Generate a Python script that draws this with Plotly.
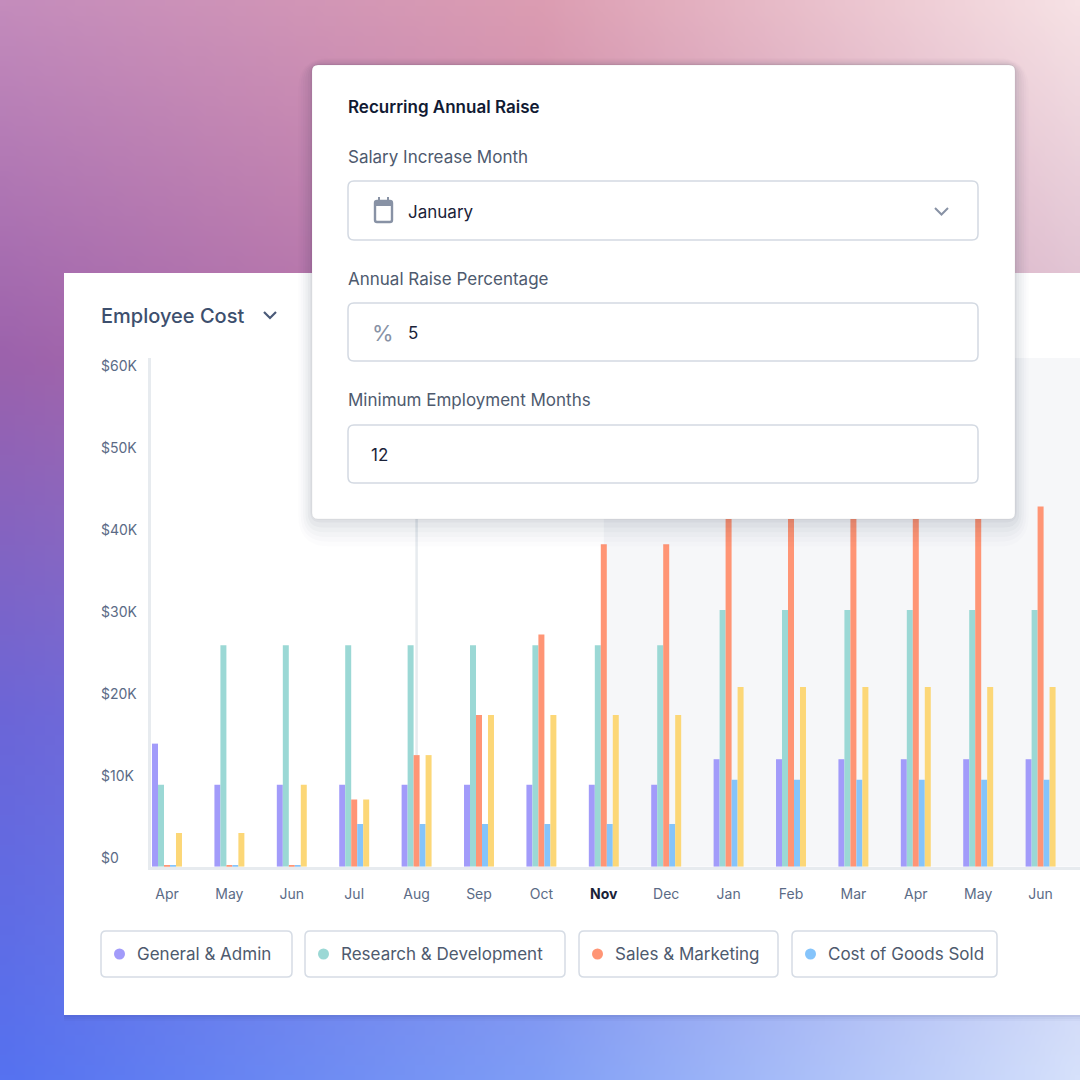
import base64
import struct
import zlib

import numpy as np
import plotly.graph_objects as go

# data (values in $K)
months = ["Apr", "May", "Jun", "Jul", "Aug", "Sep", "Oct", "Nov",
          "Dec", "Jan", "Feb", "Mar", "Apr", "May", "Jun"]
general_admin = [15, 10, 10, 10, 10, 10, 10, 10, 10, 13.1, 13.1, 13.1, 13.1, 13.1, 13.1]
research_dev = [10, 27, 27, 27, 27, 27, 27, 27, 27, 31.3, 31.3, 31.3, 31.3, 31.3, 31.3]
sales_marketing = [0.2, 0.2, 0.2, 8.2, 13.6, 18.5, 28.3, 39.3, 39.3, 43, 43, 43, 43, 43, 43.9]
cost_goods = [0.2, 0.2, 0.2, 5.2, 5.2, 5.2, 5.2, 5.2, 5.2, 10.6, 10.6, 10.6, 10.6, 10.6, 10.6]
other_cost = [4.1, 4.1, 10, 8.2, 13.6, 18.5, 18.5, 18.5, 18.5, 21.9, 21.9, 21.9, 21.9, 21.9, 21.9]
y_ticks = [0, 10, 20, 30, 40, 50, 60]

series = [
    ("General & Admin", general_admin, "#a29bfa"),
    ("Research & Development", research_dev, "#9bd8d5"),
    ("Sales & Marketing", sales_marketing, "#ff9575"),
    ("Cost of Goods Sold", cost_goods, "#85c4fb"),
    ("Other", other_cost, "#fcd777"),
]

FONT = "Inter"
W = H = 1080


def px(x):
    return x / W


def py(y):
    return 1 - y / H


def rrect(x0, y0, x1, y1, r):
    # rounded rectangle path in paper coords, input in pixels
    X0, X1, Y0, Y1 = px(x0), px(x1), py(y0), py(y1)
    R = r / W
    return (f"M {X0+R},{Y0} L {X1-R},{Y0} Q {X1},{Y0} {X1},{Y0-R} "
            f"L {X1},{Y1+R} Q {X1},{Y1} {X1-R},{Y1} L {X0+R},{Y1} "
            f"Q {X0},{Y1} {X0},{Y1+R} L {X0},{Y0-R} Q {X0},{Y0} {X0+R},{Y0} Z")


# background gradient as a small png
def hex_rgb(h):
    h = h.lstrip("#")
    return [int(h[i:i + 2], 16) for i in (0, 2, 4)]


grid = np.array([
    [hex_rgb(c) for c in ["#c48cbc", "#dc9db2", "#f7e2e5"]],
    [hex_rgb(c) for c in ["#9c62ac", "#c07aa8", "#dcbccf"]],
    [hex_rgb(c) for c in ["#6c66d8", "#8a82e2", "#c8c8f0"]],
    [hex_rgb(c) for c in ["#5672f0", "#809ef6", "#d6e1fb"]],
], dtype=float)
N = 108
ys = np.linspace(0, grid.shape[0] - 1, N)
xs = np.linspace(0, grid.shape[1] - 1, N)
img = np.zeros((N, N, 3))
for i, yy in enumerate(ys):
    r0 = min(int(yy), grid.shape[0] - 2)
    ty = yy - r0
    row = grid[r0] * (1 - ty) + grid[r0 + 1] * ty
    for j, xx in enumerate(xs):
        c0 = min(int(xx), grid.shape[1] - 2)
        tx = xx - c0
        img[i, j] = row[c0] * (1 - tx) + row[c0 + 1] * tx
img = img.clip(0, 255).astype(np.uint8)


def chunk(t, d):
    return struct.pack(">I", len(d)) + t + d + struct.pack(">I", zlib.crc32(t + d) & 0xffffffff)


raw = b"".join(b"\x00" + img[i].tobytes() for i in range(N))
png = (b"\x89PNG\r\n\x1a\n" + chunk(b"IHDR", struct.pack(">IIBBBBB", N, N, 8, 2, 0, 0, 0))
       + chunk(b"IDAT", zlib.compress(raw)) + chunk(b"IEND", b""))
bg_uri = "data:image/png;base64," + base64.b64encode(png).decode()

fig = go.Figure()
xs_idx = list(range(len(months)))
for name, vals, col in series:
    fig.add_bar(x=xs_idx, y=[v * 1000 for v in vals], name=name, marker_color=col,
                marker_line_width=0, showlegend=False)

# x axis geometry: 62.4 px per month, first month at 167 px
step = 62.4
x_left = 151
r0 = -(167 - x_left) / step
r1 = r0 + (W - x_left) / step
y_top_px, y_zero_px = 358, 866.7
tick_text = [f"<span style='color:#1a2238'><b>{m}</b></span>" if i == 7 else m
             for i, m in enumerate(months)]

shapes = []
# card shadow + card
for k, op in enumerate([0.05, 0.04, 0.03]):
    shapes.append(dict(type="rect", xref="paper", yref="paper", layer="below",
                       x0=px(64), x1=1.02, y0=py(1015 + 2 + 2 * k), y1=py(280),
                       fillcolor=f"rgba(30,40,90,{op})", line_width=0))
shapes.append(dict(type="rect", xref="paper", yref="paper", layer="below",
                   x0=px(64), x1=1.02, y0=py(1015), y1=py(273),
                   fillcolor="white", line_width=0))
# forecast shading and current month marker
shapes.append(dict(type="rect", xref="x", yref="y", layer="below", x0=7, x1=r1 + 1,
                   y0=0, y1=62000, fillcolor="#f6f7f9", line_width=0))
shapes.append(dict(type="line", xref="x", yref="y", layer="below", x0=4, x1=4,
                   y0=0, y1=62000, line=dict(color="#e7ebef", width=2.5)))

# popover shadow and body
for k, op in enumerate([0.035, 0.03, 0.025, 0.02, 0.015, 0.01]):
    g = 3 + 4 * k
    shapes.append(dict(type="path", xref="paper", yref="paper", layer="above",
                       path=rrect(312 - g * 0.6, 65 - g * 0.3, 1015 + g * 0.6, 519 + g * 1.2, 8 + g),
                       fillcolor=f"rgba(20,30,60,{op})", line_width=0))
shapes.append(dict(type="path", xref="paper", yref="paper", layer="above",
                   path=rrect(312, 65, 1015, 519, 6), fillcolor="white",
                   line=dict(color="rgba(0,0,0,0.05)", width=1)))
for y0, y1 in [(181, 240), (303, 361), (425, 483)]:
    shapes.append(dict(type="path", xref="paper", yref="paper", layer="above",
                       path=rrect(348, y0, 978, y1, 6), fillcolor="white",
                       line=dict(color="#d3d9e2", width=1.5)))
# calendar icon
shapes.append(dict(type="path", xref="paper", yref="paper", layer="above",
                   path=rrect(375, 201, 392, 222, 2), fillcolor="rgba(0,0,0,0)",
                   line=dict(color="#8892a5", width=2.4)))
shapes.append(dict(type="rect", xref="paper", yref="paper", layer="above",
                   x0=px(375), x1=px(392), y0=py(206), y1=py(201),
                   fillcolor="#8892a5", line_width=0))
for tx in (379, 388):
    shapes.append(dict(type="line", xref="paper", yref="paper", layer="above",
                       x0=px(tx), x1=px(tx), y0=py(197), y1=py(202),
                       line=dict(color="#8892a5", width=2)))
# chevrons
shapes.append(dict(type="path", xref="paper", yref="paper", layer="above",
                   path=f"M {px(935)},{py(208)} L {px(941.5)},{py(214.5)} L {px(948)},{py(208)}",
                   line=dict(color="#8892a5", width=2)))
shapes.append(dict(type="path", xref="paper", yref="paper", layer="above",
                   path=f"M {px(264)},{py(312)} L {px(270)},{py(318)} L {px(276)},{py(312)}",
                   line=dict(color="#4a5a78", width=2.2)))

annotations = []


def text(x, y, s, size, color, weight=400, anchor="left"):
    # annotations carry ~2px of padding, pull left-anchored text back by that
    xs_ = x - 2 if anchor == "left" else x
    annotations.append(dict(x=px(xs_), y=py(y), xref="paper", yref="paper", text=s,
                            showarrow=False, xanchor=anchor, yanchor="middle",
                            font=dict(family=FONT, size=size, color=color, weight=weight)))


text(101, 316, "Employee Cost", 20, "#3d4f6e", 500)
text(348, 107, "Recurring Annual Raise", 17, "#111a33", 600)
text(348, 157, "Salary Increase Month", 17, "#4e5a6e")
text(408, 212, "January", 17, "#1a2238")
text(348, 279, "Annual Raise Percentage", 17, "#4e5a6e")
text(383, 333, "%", 22, "#8892a5", 400, "center")
text(408, 333, "5", 17, "#1a2238")
text(348, 400, "Minimum Employment Months", 17, "#4e5a6e")
text(371, 455, "12", 17, "#1a2238")

# y tick labels, left aligned and sitting just above their level
for t in y_ticks:
    annotations.append(dict(x=px(99), y=t * 1000, xref="paper", yref="y",
                            text=f"${t}K" if t else "$0", showarrow=False,
                            xanchor="left", yanchor="middle", yshift=9,
                            font=dict(family=FONT, size=14, color="#5b6b86")))

# legend pills
pills = [(101, 292), (305, 565), (579, 778), (792, 997)]
for (name, _, col), (a, b) in zip(series[:4], pills):
    shapes.append(dict(type="path", xref="paper", yref="paper", layer="above",
                       path=rrect(a, 931, b, 977, 5), fillcolor="white",
                       line=dict(color="#d6dce5", width=1.5)))
    shapes.append(dict(type="circle", xref="paper", yref="paper", layer="above",
                       x0=px(a + 13), x1=px(a + 24), y0=py(948.5), y1=py(959.5),
                       fillcolor=col, line_width=0))
    text(a + 36, 954, name, 17, "#4e5a6e")

fig.update_layout(
    width=W, height=H,
    margin=dict(l=0, r=0, t=0, b=0),
    paper_bgcolor="#8a7fd0",
    plot_bgcolor="rgba(0,0,0,0)",
    barmode="group", bargap=0.52, bargroupgap=0,
    showlegend=False,
    font=dict(family=FONT, color="#5b6b86"),
    images=[dict(source=bg_uri, xref="paper", yref="paper", x=0, y=1, sizex=1, sizey=1,
                 sizing="stretch", xanchor="left", yanchor="top", layer="below")],
    shapes=shapes,
    annotations=annotations,
    xaxis=dict(domain=[px(x_left), 1], range=[r0, r1], tickvals=xs_idx, ticktext=tick_text,
               showgrid=False, zeroline=False, showline=True, linecolor="#e7ebef", linewidth=2.5,
               ticks="", ticklabelstandoff=13, tickfont=dict(family=FONT, size=14, color="#5b6b86"),
               fixedrange=True),
    yaxis=dict(domain=[py(y_zero_px), py(y_top_px)], range=[0, 62000], showgrid=False,
               zeroline=False, showline=True, linecolor="#e7ebef", linewidth=2.5,
               showticklabels=False, ticks="", fixedrange=True),
)

# drop the page's default body margin so the figure fills the window
fig.write_html("out.html", config={"displayModeBar": False},
               post_script="document.body.style.margin='0px';")
